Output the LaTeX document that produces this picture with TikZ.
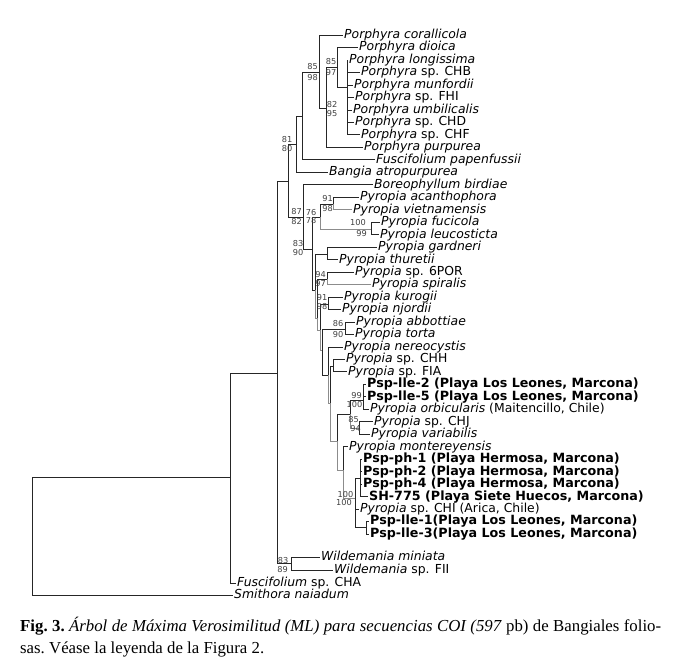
\documentclass[tikz,border=0pt]{standalone}
\usepackage{fontspec}
\setmainfont{Liberation Serif}
\newfontfamily\tx{DejaVu Sans}
\newcommand{\bl}[1]{{\fontsize{12.7}{14}\selectfont\textbf{#1}}}
\tikzset{
  br/.style={line width=0.8pt, black!85},
  brg/.style={line width=0.8pt, black!45},
  leaf/.style={anchor=west, inner xsep=1.2pt, inner ysep=0pt, outer sep=0pt,
    text height=9.8pt, text depth=3pt, font=\tx\fontsize{12.4}{14}\selectfont},
  bs/.style={inner sep=0pt, black!75, font=\tx\fontsize{8.2}{9}\selectfont},
  capline/.style={anchor=base west, inner sep=0pt,
    font=\fontsize{16.8}{20}\selectfont\frenchspacing}
}
\begin{document}
\begin{tikzpicture}[x=1pt,y=-1pt]
    \useasboundingbox (0,0) rectangle (678,665);
    %% taxa
    \foreach \nm/\xx/\yy/\txt in {
        cor/343/35.0/{\textit{Porphyra corallicola}},
        dio/358/47.5/{\textit{Porphyra dioica}},
        lon/348/60.0/{\textit{Porphyra longissima}},
        chb/360/72.4/{\textit{Porphyra} sp. CHB},
        mun/353/84.9/{\textit{Porphyra munfordii}},
        fhi/354/97.4/{\textit{Porphyra} sp. FHI},
        umb/352/109.9/{\textit{Porphyra umbilicalis}},
        chd/354/122.3/{\textit{Porphyra} sp. CHD},
        chf/360/134.8/{\textit{Porphyra} sp. CHF},
        pur/363/147.3/{\textit{Porphyra purpurea}},
        pap/375/159.8/{\textit{Fuscifolium papenfussii}},
        ban/328/172.2/{\textit{Bangia atropurpurea}},
        bor/373/184.7/{\textit{Boreophyllum birdiae}},
        aca/359/197.2/{\textit{Pyropia acanthophora}},
        vie/352/209.7/{\textit{Pyropia vietnamensis}},
        fuc/380/222.1/{\textit{Pyropia fucicola}},
        leu/379/234.6/{\textit{Pyropia leucosticta}},
        gar/377/247.1/{\textit{Pyropia gardneri}},
        thu/338/259.6/{\textit{Pyropia thuretii}},
        por/354/272.0/{\textit{Pyropia} sp. 6POR},
        spi/371/284.5/{\textit{Pyropia spiralis}},
        kur/343/297.0/{\textit{Pyropia kurogii}},
        njo/341/309.5/{\textit{Pyropia njordii}},
        abb/355/321.9/{\textit{Pyropia abbottiae}},
        tor/354/334.4/{\textit{Pyropia torta}},
        ner/343/346.9/{\textit{Pyropia nereocystis}},
        chh/345/359.4/{\textit{Pyropia} sp. CHH},
        fia/347/371.8/{\textit{Pyropia} sp. FIA},
        lla/366/384.3/{\bl{Psp-lle-2 (Playa Los Leones, Marcona)}},
        llb/366/396.8/{\bl{Psp-lle-5 (Playa Los Leones, Marcona)}},
        orb/369/409.3/{\textit{Pyropia orbicularis} (Maitencillo, Chile)},
        chj/373/421.7/{\textit{Pyropia} sp. CHJ},
        vrb/370/434.2/{\textit{Pyropia variabilis}},
        mon/348/446.7/{\textit{Pyropia montereyensis}},
        pha/362/459.2/{\bl{Psp-ph-1 (Playa Hermosa, Marcona)}},
        phb/362/471.6/{\bl{Psp-ph-2 (Playa Hermosa, Marcona)}},
        phc/362/484.1/{\bl{Psp-ph-4 (Playa Hermosa, Marcona)}},
        shu/368/496.6/{\bl{SH-775 (Playa Siete Huecos, Marcona)}},
        chi/359/509.1/{\textit{Pyropia} sp. CHI (Arica, Chile)},
        llc/369/521.5/{\bl{Psp-lle-1(Playa Los Leones, Marcona)}},
        lld/369/534.0/{\bl{Psp-lle-3(Playa Los Leones, Marcona)}},
        wmi/320/557/{\textit{Wildemania miniata}},
        wfi/333/570/{\textit{Wildemania} sp. FII},
        cha/236/583/{\textit{Fuscifolium} sp. CHA},
        smi/233/595.5/{\textit{Smithora naiadum}}}
        \node[leaf] (\nm) at (\xx,\yy) {\txt};
    %% internal nodes
    \foreach \nm/\xx/\yy in {r0/32/536, nA/230/477, nB/277/373, nWd/291/563,
        nC/288/181, nD/296/144, nE/302/116, nP1/319/72, nP2/326/108, nP3/337/67,
        nP4/347/87, nF/303/217, nG/312/249, nH/320/217, nI/333/204, nJ/371/229,
        nM1/315/290, nL/327/254, nM2/317/318, nN/327/279, nM3/320/330, nO/328/304,
        nM4/322/350, nPt/345/329, nM5/328/375, nM6/330/403, nU/333/366,
        nZ/337/441, nR/350/414, nQ/363/400, nS/359/428, nY/343/470,
        nX/355/498, nW/360/478, nV/366/527}
        \coordinate (\nm) at (\xx,\yy);
    %% branches
    \foreach \p/\c in {r0/nA, nA/nB, nB/nC, nB/nWd, nC/nD, nC/nF, nD/nE, nE/nP1,
        nP1/nP2, nP2/nP3, nP3/nP4, nF/nG, nG/nH, nG/nM1, nH/nI, nM1/nL, nM2/nN,
        nM3/nO, nM4/nPt, nM4/nM5, nM6/nU, nZ/nR, nR/nQ, nX/nW, nX/nV}
        \draw[br] (\p) |- (\c);
    \foreach \p/\c in {nH/nJ, nM1/nM2, nM2/nM3, nM3/nM4, nM5/nM6, nM6/nZ,
        nZ/nY, nY/nX, nR/nS}
        \draw[brg] (\p) |- (\c);
    \foreach \p/\c in {r0/smi, nA/cha, nWd/wmi, nWd/wfi, nD/ban, nE/pap, nP1/cor,
        nP2/pur, nP3/dio, nP4/lon, nP4/chb, nP4/mun, nP4/fhi, nP4/umb, nP4/chd,
        nP4/chf, nF/bor, nI/aca, nJ/fuc, nJ/leu, nL/gar, nL/thu, nN/por, nO/kur,
        nO/njo, nPt/abb, nPt/tor, nM5/ner, nU/chh, nU/fia, nQ/lla, nQ/llb, nQ/orb,
        nS/chj, nS/vrb, nY/mon, nW/pha, nW/phb, nW/phc, nW/shu, nX/chi, nV/llc,
        nV/lld}
        \draw[br] (\p) |- (\c.west);
    \foreach \p/\c in {nI/vie, nN/spi}
        \draw[brg] (\p) |- (\c.west);
    %% bootstrap values
    \foreach \xx/\yy/\v [count=\k] in {312.5/67/85, 312.5/77.5/98, 331/62/85,
        331/72.5/97, 332/104.5/82, 332/114/95, 287/140/81, 287/148.5/80,
        296.5/212/87, 296.5/221.5/82, 311/212.5/76, 311/221/78, 327.5/199/91,
        327.5/208.5/98, 358/222.5/100, 361.5/234/99, 298/244/83, 298/252.5/90,
        320.5/274.5/94, 320.5/284/97, 322/297.5/91, 322/306.5/98, 338/323.5/86,
        338/335/90, 356.5/395.5/99, 354.5/405/100, 353.5/419.5/85, 355.5/429/94,
        345.5/494.5/100, 344/503/100, 283/561/83, 282.5/569.5/89}
        \node[bs] (bs\k) at (\xx,\yy) {\v};
    %% caption
    \node[capline] (cap1) at (20,631) {\makebox[641pt][s]{\textbf{Fig. 3.}
        \textit{Árbol de Máxima Verosimilitud (ML) para secuencias COI (597} pb)
        de Bangiales folio-}};
    \node[capline] (cap2) at (20,653) {sas. Véase la leyenda de la Figura 2.};
\end{tikzpicture}
\end{document}
